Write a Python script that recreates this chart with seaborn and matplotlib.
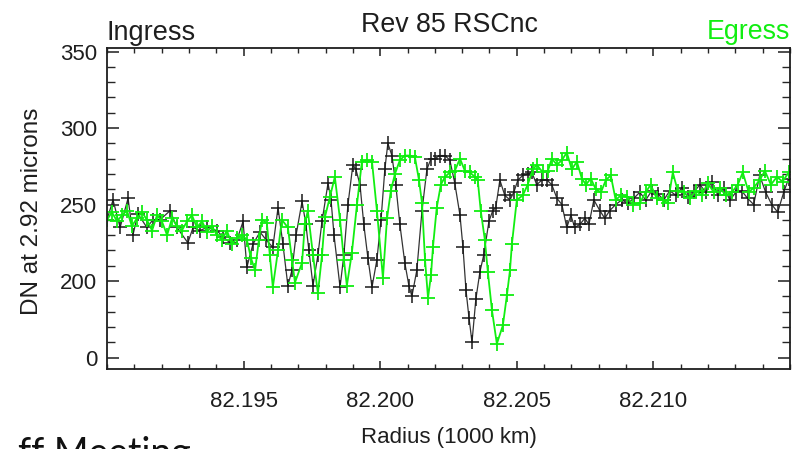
import pandas as pd
import matplotlib.pyplot as plt
from matplotlib.ticker import MultipleLocator, FixedLocator, FixedFormatter
import seaborn as sns

# Ingress (zwart) - radius in 1000 km, DN at 2.92 micron
radius_ingress = [
    82.19000, 82.19022, 82.19048, 82.19077, 82.19095, 82.19113, 82.19146, 82.19168, 82.19194, 82.19231,
    82.19256, 82.19296, 82.19315, 82.19340, 82.19366, 82.19402, 82.19424, 82.19450, 82.19476, 82.19498,
    82.19512, 82.19534, 82.19560, 82.19582, 82.19607, 82.19626, 82.19644, 82.19662, 82.19677, 82.19692,
    82.19714, 82.19728, 82.19739, 82.19754, 82.19772, 82.19787, 82.19809, 82.19820, 82.19831, 82.19853,
    82.19867, 82.19882, 82.19900, 82.19911, 82.19926, 82.19940, 82.19955, 82.19970, 82.19988, 82.20003,
    82.20017, 82.20028, 82.20043, 82.20057, 82.20072, 82.20090, 82.20105, 82.20116, 82.20134, 82.20153,
    82.20171, 82.20186, 82.20200, 82.20218, 82.20237, 82.20255, 82.20273, 82.20292, 82.20303, 82.20314,
    82.20325, 82.20336, 82.20350, 82.20365, 82.20379, 82.20398, 82.20412, 82.20423, 82.20438, 82.20456,
    82.20475, 82.20489, 82.20504, 82.20522, 82.20540, 82.20555, 82.20573, 82.20592, 82.20610, 82.20628,
    82.20647, 82.20665, 82.20683, 82.20698, 82.20712, 82.20731, 82.20749, 82.20764, 82.20782, 82.20804,
    82.20822, 82.20840, 82.20862, 82.20884, 82.20906, 82.20928, 82.20950, 82.20972, 82.20994, 82.21016,
    82.21038, 82.21060, 82.21082, 82.21104, 82.21126, 82.21148, 82.21170, 82.21192, 82.21214, 82.21236,
    82.21258, 82.21280, 82.21302, 82.21323, 82.21345, 82.21367, 82.21389, 82.21411, 82.21433, 82.21455,
    82.21477, 82.21495,
]
dn_ingress = [
    240, 253, 235, 254, 230, 244, 235, 240, 240, 246,
    235, 225, 235, 233, 235, 233, 229, 225, 227, 239,
    209, 224, 232, 227, 222, 248, 224, 197, 207, 230,
    252, 237, 220, 197, 217, 239, 264, 253, 230, 196,
    217, 250, 276, 273, 263, 237, 215, 196, 214, 240,
    273, 290, 282, 263, 237, 212, 197, 190, 207, 246,
    273, 280, 280, 282, 282, 279, 264, 243, 222, 194,
    176, 160, 188, 206, 217, 239, 246, 248, 266, 256,
    253, 258, 266, 269, 270, 271, 263, 266, 266, 263,
    254, 250, 235, 243, 235, 237, 241, 237, 253, 246,
    241, 246, 250, 253, 251, 254, 258, 253, 259, 257,
    253, 259, 256, 261, 255, 258, 263, 258, 265, 256,
    261, 253, 258, 259, 254, 250, 269, 258, 250, 245,
    258, 267,
]

# Egress (groen)
radius_egress = [
    82.19000, 82.19018, 82.19037, 82.19055, 82.19073, 82.19091, 82.19110, 82.19128, 82.19146, 82.19165,
    82.19183, 82.19201, 82.19220, 82.19238, 82.19256, 82.19274, 82.19293, 82.19311, 82.19329, 82.19348,
    82.19366, 82.19384, 82.19402, 82.19421, 82.19439, 82.19457, 82.19476, 82.19494, 82.19512, 82.19527,
    82.19542, 82.19556, 82.19567, 82.19585, 82.19596, 82.19607, 82.19626, 82.19640, 82.19662, 82.19677,
    82.19688, 82.19714, 82.19724, 82.19735, 82.19754, 82.19772, 82.19787, 82.19798, 82.19816, 82.19834,
    82.19853, 82.19867, 82.19878, 82.19896, 82.19915, 82.19933, 82.19951, 82.19970, 82.19988, 82.20010,
    82.20025, 82.20039, 82.20054, 82.20072, 82.20090, 82.20109, 82.20127, 82.20142, 82.20153, 82.20164,
    82.20175, 82.20186, 82.20193, 82.20207, 82.20222, 82.20237, 82.20255, 82.20273, 82.20292, 82.20310,
    82.20328, 82.20347, 82.20357, 82.20368, 82.20383, 82.20394, 82.20409, 82.20427, 82.20449, 82.20464,
    82.20475, 82.20482, 82.20500, 82.20522, 82.20540, 82.20559, 82.20573, 82.20595, 82.20614, 82.20628,
    82.20647, 82.20665, 82.20683, 82.20701, 82.20720, 82.20738, 82.20753, 82.20771, 82.20789, 82.20808,
    82.20826, 82.20844, 82.20862, 82.20881, 82.20903, 82.20925, 82.20950, 82.20972, 82.20990, 82.21012,
    82.21034, 82.21053, 82.21071, 82.21089, 82.21111, 82.21133, 82.21155, 82.21177, 82.21199, 82.21221,
    82.21243, 82.21265, 82.21287, 82.21309, 82.21327, 82.21349, 82.21367, 82.21389, 82.21408, 82.21430,
    82.21452, 82.21473, 82.21495,
]
dn_egress = [
    240, 245, 239, 243, 246, 236, 241, 245, 240, 233,
    243, 239, 230, 241, 236, 233, 239, 243, 235, 239,
    232, 236, 230, 227, 233, 224, 228, 230, 227, 215,
    207, 227, 240, 238, 217, 196, 220, 240, 235, 214,
    199, 212, 237, 246, 217, 192, 217, 242, 255, 268,
    240, 214, 197, 218, 250, 278, 279, 278, 246, 202,
    241, 259, 270, 279, 282, 282, 281, 266, 251, 214,
    189, 204, 222, 248, 263, 268, 271, 272, 280, 272,
    271, 268, 266, 246, 227, 206, 181, 159, 171, 191,
    207, 224, 253, 256, 263, 273, 276, 271, 272, 280,
    276, 279, 284, 273, 278, 267, 263, 267, 260, 258,
    266, 269, 253, 256, 255, 250, 251, 258, 263, 254,
    253, 251, 271, 259, 258, 254, 259, 256, 264, 258,
    261, 256, 258, 263, 271, 258, 261, 266, 272, 263,
    268, 265, 271,
]

y_ticks = [150, 200, 250, 300, 350]
y_tick_labels = ['0', '200', '250', '300', '350']
x_ticks = [82.195, 82.200, 82.205, 82.210]
x_tick_labels = ['82.195', '82.200', '82.205', '82.210']

df_in = pd.DataFrame({'radius': radius_ingress, 'dn': dn_ingress})
df_eg = pd.DataFrame({'radius': radius_egress, 'dn': dn_egress})

sns.set_style('ticks')
plt.rcParams['font.family'] = ['Liberation Sans', 'DejaVu Sans']

green = '#11ee11'
ink = '#1e1e1e'

fig = plt.figure(figsize=(8.02, 4.49), dpi=100)
ax = fig.add_axes([107 / 802, 1 - 369 / 449, (790 - 107) / 802, (369 - 48) / 449])

sns.lineplot(data=df_in, x='radius', y='dn', sort=False, estimator=None, ax=ax,
             color='#333333', linewidth=0.9, marker='+', markersize=10,
             markeredgewidth=1.1, markeredgecolor='#1a1a1a')
sns.lineplot(data=df_eg, x='radius', y='dn', sort=False, estimator=None, ax=ax,
             color=green, linewidth=1.3, marker='+', markersize=10,
             markeredgewidth=1.3, markeredgecolor=green)

ax.set_xlim(82.19, 82.215)
ax.set_ylim(142.5, 352.3)
ax.xaxis.set_major_locator(FixedLocator(x_ticks))
ax.xaxis.set_major_formatter(FixedFormatter(x_tick_labels))
ax.xaxis.set_minor_locator(MultipleLocator(0.001))
ax.yaxis.set_major_locator(FixedLocator(y_ticks))
ax.yaxis.set_major_formatter(FixedFormatter(y_tick_labels))
ax.yaxis.set_minor_locator(MultipleLocator(10))

ax.tick_params(axis='x', which='major', direction='in', top=True, length=6, width=1.1,
               labelsize=16, pad=16, colors=ink)
ax.tick_params(axis='x', which='minor', direction='in', top=True, length=3.6, width=1.0)
ax.tick_params(axis='y', which='major', direction='in', right=True, length=8.5, width=1.1,
               labelsize=16, pad=7, colors=ink)
ax.tick_params(axis='y', which='minor', direction='in', right=True, length=5.5, width=1.0)
for s in ax.spines.values():
    s.set_linewidth(1.3)
    s.set_color(ink)

ax.set_xlabel('')
ax.set_ylabel('')

fig.text(449 / 802, 1 - 32 / 449, 'Rev 85 RSCnc', ha='center', va='baseline', fontsize=19.3, color=ink)
fig.text(107 / 802, 1 - 40 / 449, 'Ingress', ha='left', va='baseline', fontsize=19.5, color=ink)
fig.text(790 / 802, 1 - 39 / 449, 'Egress', ha='right', va='baseline', fontsize=19.3, color=green)
fig.text(449 / 802, 1 - 438 / 449, 'Radius (1000 km)', ha='center', va='center', fontsize=16, color=ink)
fig.text(32 / 802, 1 - 211 / 449, 'DN at 2.92 microns', ha='center', va='center', rotation=90,
         fontsize=17.5, color=ink)
# stukje van de dia-titel dat onderaan doorschemert
fig.text(18 / 802, -0.035, 'ff Meeting', ha='left', va='baseline', fontsize=27,
         family=['Lato', 'DejaVu Sans'], color='#111111')

fig.savefig('out.png', dpi=100)
